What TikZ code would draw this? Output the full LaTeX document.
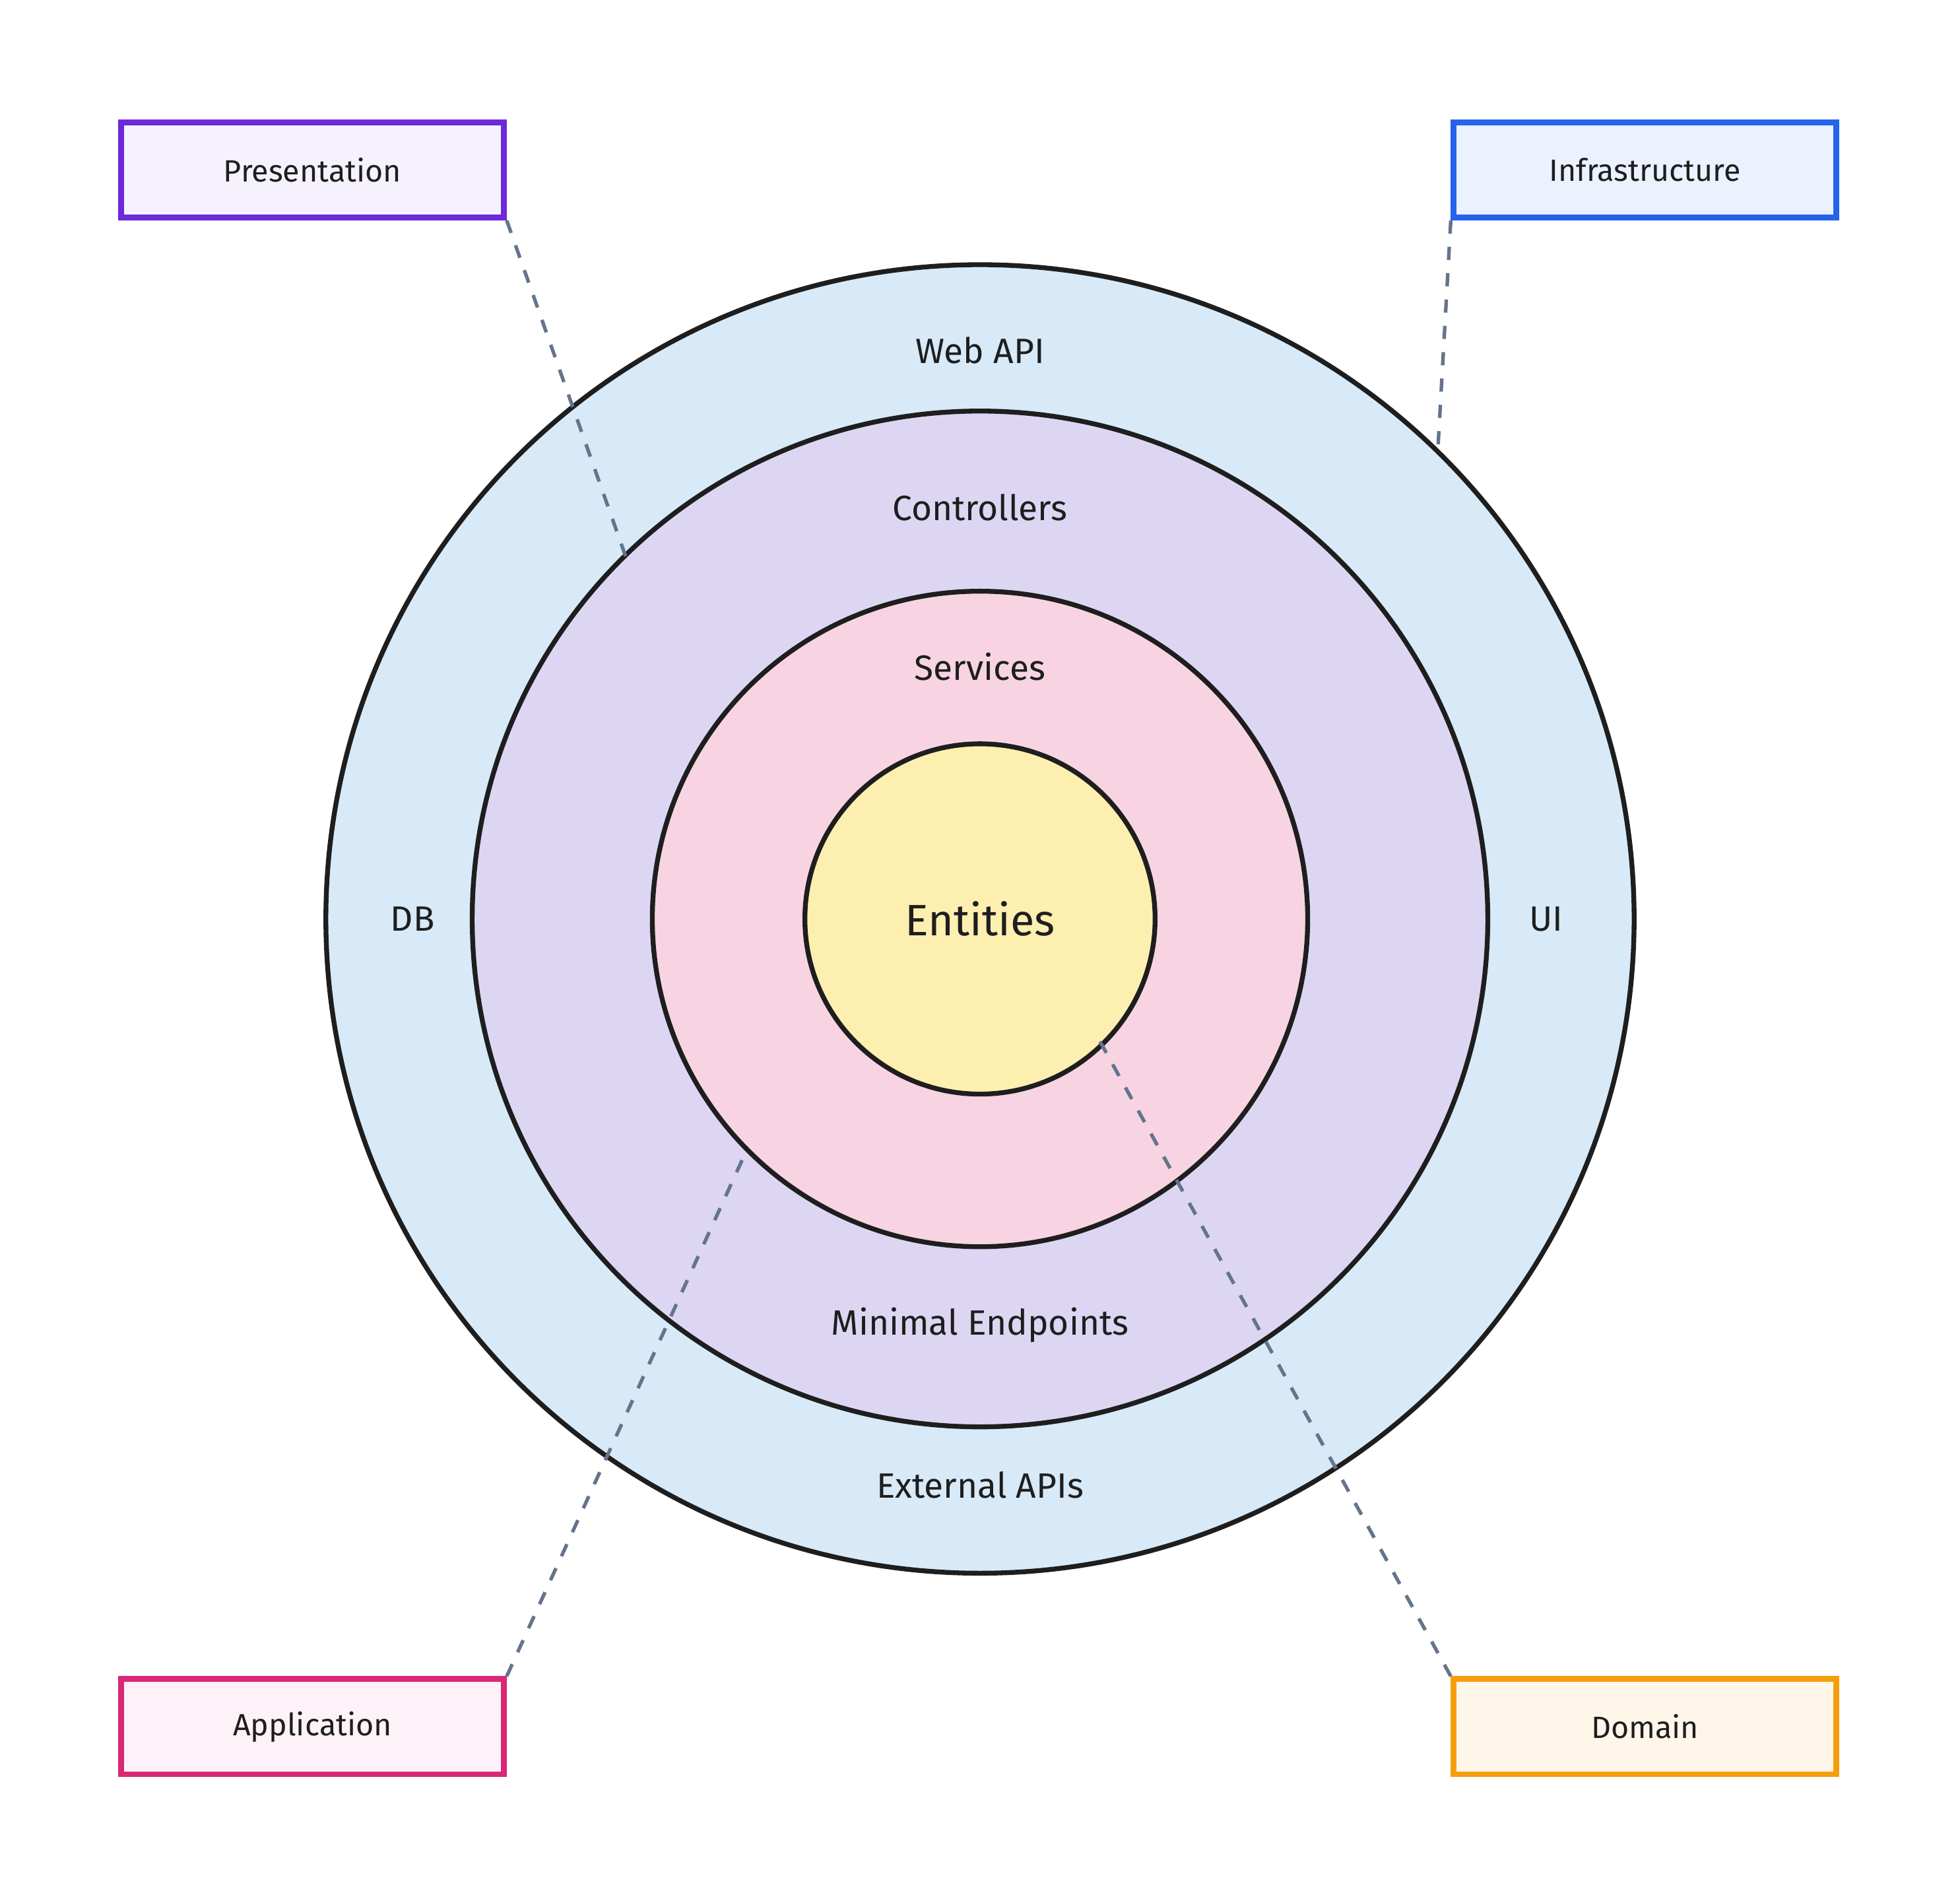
\documentclass[tikz,border=0pt]{standalone}
\usepackage{fontspec}
\setmainfont{Fira Sans}
\usetikzlibrary{positioning}
\definecolor{ringa}{HTML}{D8EAF8}
\definecolor{ringb}{HTML}{DDD6F3}
\definecolor{ringc}{HTML}{F8D4E3}
\definecolor{ringd}{HTML}{FCEFB0}
\definecolor{edge}{HTML}{1E1E1E}
\definecolor{linkgray}{HTML}{64748B}
\definecolor{pres}{HTML}{6D28D9}
\definecolor{infra}{HTML}{2563EB}
\definecolor{appl}{HTML}{DB2777}
\definecolor{dom}{HTML}{F59E0B}
\tikzset{
	ring/.style = { circle, draw=edge, line width=1.1pt, inner sep=0pt, minimum size=#1 },
	lbl/.style = { font=\footnotesize, text=edge },
	layer/.style = { rectangle, line width=1.3pt, minimum width=3.06cm, minimum height=0.76cm, font=\scriptsize, text=edge },
	link/.style = { draw=linkgray, dashed, line width=0.8pt },
}
\begin{document}
\begin{tikzpicture}[x={(0.01cm,0)},y={(0,-0.01cm)}]
\useasboundingbox (0,0) rectangle (1568,1520);

\node (web)  [ring=10.46cm,fill=ringa] at (784,735) {};
\node (ctl)  [ring=8.12cm,fill=ringb]  at (784,735) {};
\node (srv)  [ring=5.24cm,fill=ringc]  at (784,735) {};
\node (ent)  [ring=2.8cm,fill=ringd]   at (784,735) {};

\node [lbl] at (784,280)  {Web API};
\node [lbl] at (784,406)  {Controllers};
\node [lbl] at (784,533)  {Services};
\node [lbl,font=\normalsize] at (784,735) {Entities};
\node [lbl] at (330,735)  {DB};
\node [lbl] at (1237,735) {UI};
\node [lbl] at (784,1060) {Minimal Endpoints};
\node [lbl] at (784,1188) {External APIs};

\node (pre) [layer,draw=pres,fill=pres!6]   at (250,136)   {Presentation};
\node (inf) [layer,draw=infra,fill=infra!9] at (1316,136)  {Infrastructure};
\node (app) [layer,draw=appl,fill=appl!6]   at (250,1381)  {Application};
\node (dmn) [layer,draw=dom,fill=dom!9]     at (1316,1381) {Domain};

\coordinate (preend) at (503,452);
\coordinate (infend) at (1150,365);
\coordinate (append) at (595,925);
\coordinate (dmnend) at (880,833);
\draw[link] (pre.south east) -- (preend);
\draw[link] (inf.south west) -- (infend);
\draw[link] (app.north east) -- (append);
\draw[link] (dmn.north west) -- (dmnend);
\end{tikzpicture}
\end{document}
